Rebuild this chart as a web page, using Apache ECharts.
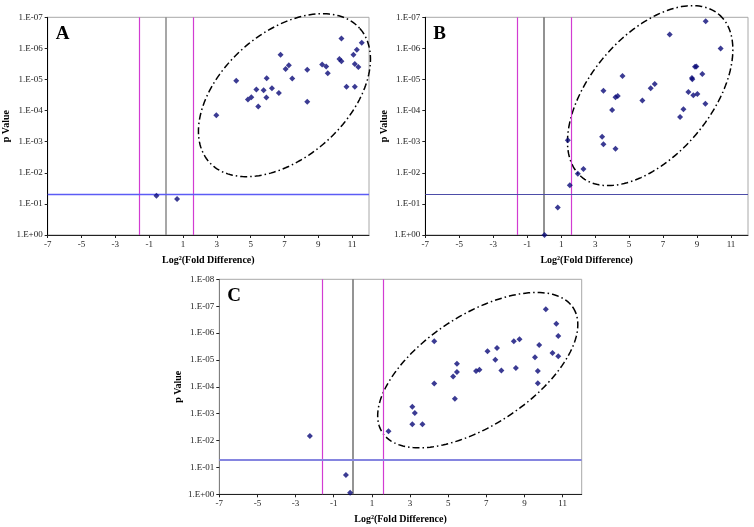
<!DOCTYPE html>
<html><head><meta charset="utf-8">
<script src="https://cdn.jsdelivr.net/npm/echarts@6/dist/echarts.min.js"></script>
<style>html,body{margin:0;padding:0;background:#fff}#c{width:754px;height:527px}</style>
</head><body><div id="c"></div>
<script>
// ---- data ----
const panelLetters = ['A', 'B', 'C'];
const xTickMin = -7, xTickMax = 12, xTickStep = 2;
const yMinA = 1e-7, yMinB = 1e-7, yMinC = 1e-8;
const foldThresholds = [-1.585, 1.585];
const zeroLine = 0;
const pThreshold = 0.05;

const aX = [-0.57,0.65,2.97,4.15,4.84,5.04,5.34,5.45,5.77,5.93,5.95,6.26,6.67,6.77,7.07,7.26,7.46,8.35,8.35,9.23,9.47,9.56,10.37,10.25,10.37,10.67,11.08,11.28,11.16,11.37,11.16,11.57];
const aP = [5.5e-2,6.9e-2,1.4e-4,1.1e-5,4.4e-5,3.7e-5,2.1e-5,7.4e-5,2.2e-5,3.8e-5,9.1e-6,1.9e-5,2.7e-5,1.6e-6,4.6e-6,3.5e-6,9.3e-6,4.9e-6,5.2e-5,3.3e-6,3.8e-6,6.3e-6,4.8e-7,2.2e-6,2.6e-6,1.7e-5,1.6e-6,1.1e-6,3.2e-6,4.0e-6,1.7e-5,6.6e-7];

const bX = [0.02,0.80,1.51,1.39,1.98,2.31,3.41,3.49,3.49,4.00,4.20,4.33,4.20,4.61,5.78,6.27,6.51,7.39,8.00,8.20,8.49,8.70,8.72,8.78,8.88,8.96,9.02,9.31,9.49,9.51,10.39];
const bP = [1,0.13,0.025,8.9e-4,1.07e-2,7.6e-3,6.9e-4,1.2e-3,2.3e-5,9.6e-5,3.7e-5,3.4e-5,1.7e-3,7.7e-6,4.7e-5,1.9e-5,1.4e-5,3.6e-7,1.6e-4,9.1e-5,2.5e-5,8.9e-6,9.8e-6,3.2e-5,3.9e-6,3.8e-6,2.9e-5,6.7e-6,6.0e-5,1.35e-7,1.0e-6];

const cX = [-0.14,-0.36,-2.25,1.87,3.12,3.25,3.12,3.65,4.27,4.27,5.35,5.26,5.46,5.46,6.46,6.64,7.06,7.47,7.56,7.79,8.44,8.74,8.55,9.55,9.70,9.70,9.77,10.12,10.47,10.67,10.77,10.77];
const cP = [0.87,0.19,6.8e-3,4.5e-3,5.5e-4,9.4e-4,2.5e-3,2.5e-3,7.6e-5,2.0e-6,2.8e-4,4.1e-5,2.8e-5,1.4e-5,2.6e-5,2.3e-5,4.8e-6,9.8e-6,3.6e-6,2.5e-5,2.0e-6,1.7e-6,2.0e-5,7.9e-6,2.6e-5,7.4e-5,2.8e-6,1.3e-7,5.5e-6,4.5e-7,1.3e-6,7.3e-6];

// ellipse annotation centres (data units)
const ellipseCentresX = [7.0, 6.24, 6.55];
const ellipseCentresP = [3.2e-5, 3.3e-5, 2.4e-5];

// ---- layout / styles ----
const grids = [
  {left: 47.7, top: 17.3, width: 321.3, height: 217.7},
  {left: 425.3, top: 17.3, width: 322.7, height: 217.7},
  {left: 219.3, top: 279.3, width: 362.4, height: 215}
];
const ellipseShapes = [
  {a: 100.7, b: 62.4, deg: 41.5},
  {a: 106.4, b: 60.1, deg: 49.7},
  {a: 114, b: 55.2, deg: 33.2}
];
const yAxisLineColors = ['#000', '#000', '#808080'];
const blueLine = [
  {color: '#5c5cf5', width: 1.3},
  {color: '#4d4da8', width: 1},
  {color: '#8585e0', width: 2}
];
const grayLineColors = ['#8a8a8a', '#6e6e6e', '#707070'];
const SERIF = '"Liberation Serif","Times New Roman",serif';

function fmtP(v) {
  const e = Math.round(Math.log10(v));
  const a = Math.abs(e);
  return '1.E' + (e < 0 ? '-' : '+') + (a < 10 ? '0' + a : a);
}

const xs = [aX, bX, cX], ps = [aP, bP, cP], yMins = [yMinA, yMinB, yMinC];

const option = {
  animation: false,
  backgroundColor: '#fff',
  grid: grids.map(g => Object.assign({show: true, borderColor: '#a8a8a8', borderWidth: 1, backgroundColor: '#fff', containLabel: false}, g)),
  xAxis: grids.map((g, i) => ({
    type: 'value', gridIndex: i, min: xTickMin, max: xTickMax, interval: xTickStep,
    name: 'Log²(Fold Difference)', nameLocation: 'middle', nameGap: 20,
    nameTextStyle: {fontFamily: SERIF, fontWeight: 'bold', fontSize: 10, color: '#000'},
    axisLine: {show: true, onZero: false, lineStyle: {color: '#222', width: 1}},
    axisTick: {show: true, length: 3, lineStyle: {color: '#222'}},
    axisLabel: {fontFamily: SERIF, fontSize: 9, color: '#222', margin: 5, showMaxLabel: false,
      formatter: v => (v === xTickMax ? '' : String(v))},
    splitLine: {show: false}
  })),
  yAxis: grids.map((g, i) => ({
    type: 'log', logBase: 10, gridIndex: i, min: yMins[i], max: 1, inverse: true, interval: 1,
    name: 'p Value', nameLocation: 'middle', nameGap: 36,
    nameTextStyle: {fontFamily: SERIF, fontWeight: 'bold', fontSize: 10, color: '#000'},
    axisLine: {show: true, onZero: false, lineStyle: {color: yAxisLineColors[i], width: 1}},
    axisTick: {show: true, length: 3, lineStyle: {color: '#222'}},
    axisLabel: {fontFamily: SERIF, fontSize: 9, color: '#222', margin: 5, formatter: fmtP},
    splitLine: {show: false}
  })),
  series: [],
  graphic: grids.map((g, i) => ({
    type: 'text', left: g.left + 8, top: g.top + 7, z: 10,
    style: {text: panelLetters[i], font: 'bold 19px ' + SERIF, fill: '#000'}
  }))
};

grids.forEach((g, i) => {
  // threshold lines
  option.series.push({
    type: 'line', xAxisIndex: i, yAxisIndex: i, data: [], z: 1, silent: true,
    markLine: {
      symbol: 'none', silent: true, animation: false, label: {show: false},
      data: [
        {xAxis: foldThresholds[0], lineStyle: {color: '#d23cd2', width: 1.2, type: 'solid'}},
        {xAxis: foldThresholds[1], lineStyle: {color: '#d23cd2', width: 1.2, type: 'solid'}},
        {xAxis: zeroLine, lineStyle: {color: grayLineColors[i], width: 1.5, type: 'solid'}},
        {yAxis: pThreshold, lineStyle: {color: blueLine[i].color, width: blueLine[i].width, type: 'solid'}}
      ]
    }
  });
  // points
  option.series.push({
    type: 'scatter', xAxisIndex: i, yAxisIndex: i, z: 5, clip: false,
    symbol: 'diamond', symbolSize: 6,
    itemStyle: {color: '#0a0a78'},
    data: xs[i].map((x, k) => [x, ps[i][k]])
  });
  // ellipse annotation
  option.series.push({
    type: 'custom', xAxisIndex: i, yAxisIndex: i, z: 4, clip: false, silent: true,
    data: [[ellipseCentresX[i], ellipseCentresP[i]]],
    renderItem: function (params, api) {
      const c = api.coord([api.value(0), api.value(1)]);
      const e = ellipseShapes[i];
      const th = e.deg * Math.PI / 180;
      const ux = Math.cos(th), uy = -Math.sin(th);
      const vx = Math.sin(th), vy = Math.cos(th);
      const pts = [];
      for (let k = 0; k <= 180; k++) {
        const t = 2 * Math.PI * k / 180;
        pts.push([c[0] + e.a * Math.cos(t) * ux + e.b * Math.sin(t) * vx,
                  c[1] + e.a * Math.cos(t) * uy + e.b * Math.sin(t) * vy]);
      }
      return {type: 'polyline', shape: {points: pts},
        style: {stroke: '#000', fill: null, lineWidth: 1.5, lineDash: [7, 3, 1.5, 3]}};
    }
  });
});

const chart = echarts.init(document.getElementById('c'), null, {renderer: 'canvas'});
chart.setOption(option);
</script>
</body></html>
